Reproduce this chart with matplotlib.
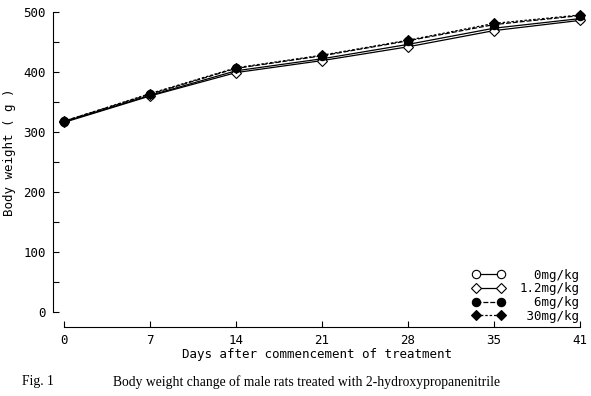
import matplotlib
matplotlib.use('Agg')
import matplotlib.pyplot as plt
import numpy as np

days = ['0', '7', '14', '21', '28', '35', '41']
w_0 = [317, 361, 402, 422, 446, 473, 489]
w_12 = [316, 360, 399, 419, 442, 469, 486]
w_6 = [318, 363, 406, 427, 452, 479, 494]
w_30 = [318, 364, 407, 428, 453, 481, 495]
labels = ['  0mg/kg', '1.2mg/kg', '  6mg/kg', ' 30mg/kg']

mono = 'DejaVu Sans Mono'


def main():
    W, H = 591, 396
    fig = plt.figure(figsize=(W / 100, H / 100), dpi=100)
    fig.patch.set_facecolor('white')

    # axes: y=0 at px 312, y=500 at px 12; x from px 53 to 580
    x0, x1 = 53, 580
    ax = fig.add_axes([x0 / W, 1 - 312 / H, (x1 - x0) / W, 300 / H])
    x = np.arange(len(days))
    step = (580 - 64) / 6
    ax.set_xlim(-(64 - x0) / step, 6)
    ax.set_ylim(0, 500)

    series = [
        (w_0, 'o', 'white', '-', 0.9),
        (w_12, 'D', 'white', '-', 0.9),
        (w_6, 'o', 'black', (0, (4, 1.5)), 0.9),
        (w_30, 'D', 'black', (0, (2, 1.5)), 0.9),
    ]
    for (vals, mk, fc, ls, lw), lab in zip(series, labels):
        ms = 6 if mk == 'o' else 5.5
        ax.plot(x, vals, color='black', linestyle=ls, linewidth=lw,
                marker=mk, markersize=ms, markerfacecolor=fc,
                markeredgecolor='black', markeredgewidth=0.8, label=lab,
                clip_on=False)

    for s in ['top', 'right']:
        ax.spines[s].set_visible(False)
    ax.spines['bottom'].set_position(('outward', 11))
    ax.spines['bottom'].set_bounds(0, 6)
    ax.spines['left'].set_bounds(0, 500)
    for s in ['left', 'bottom']:
        ax.spines[s].set_linewidth(0.8)

    ax.set_xticks(x)
    ax.set_xticklabels(days, fontfamily=mono, fontsize=9)
    ax.set_yticks(np.arange(0, 501, 100))
    ax.set_yticklabels([str(v) for v in range(0, 501, 100)], fontfamily=mono, fontsize=9)
    ax.set_yticks(np.arange(50, 500, 100), minor=True)
    ax.tick_params(axis='both', which='both', direction='in', length=4, width=0.8, pad=5)
    ax.tick_params(axis='x', pad=4.5)

    ax.set_xlabel('Days after commencement of treatment', fontfamily=mono, fontsize=9, labelpad=1)
    fig.text(10 / W, 1 - 152 / H, 'Body weight ( g )', fontfamily=mono, fontsize=9,
             rotation=90, ha='center', va='center')

    ax.legend(loc='lower right', bbox_to_anchor=(1.02, -0.073), frameon=False,
              numpoints=2, handlelength=2.6, handletextpad=1.2,
              labelspacing=0.05, prop={'family': mono, 'size': 9})

    fig.text(22 / W, 1 - 382 / H, 'Fig. 1', fontfamily='Liberation Serif', fontsize=9.8, va='center')
    fig.text(113 / W, 1 - 382 / H,
             'Body weight change of male rats treated with 2-hydroxypropanenitrile',
             fontfamily='Liberation Serif', fontsize=9.8, va='center')

    fig.savefig('out.png', dpi=100)


if __name__ == '__main__':
    main()
